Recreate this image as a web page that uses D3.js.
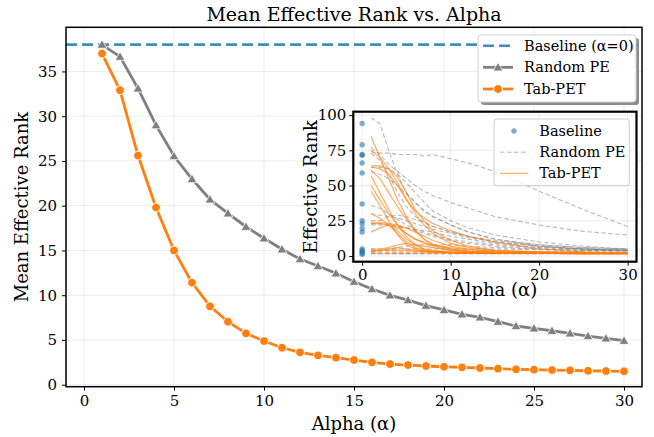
<!DOCTYPE html>
<html><head><meta charset="utf-8">
<script src="https://cdn.jsdelivr.net/npm/d3@7"></script>
<style>body{margin:0;background:#fff} svg{display:block} text{font-family:"DejaVu Serif",serif;fill:#000}</style>
</head><body><svg id="c" width="654" height="437"></svg>
<script>
// ---------- data ----------
const alphas = [1,2,3,4,5,6,7,8,9,10,11,12,13,14,15,16,17,18,19,20,21,22,23,24,25,26,27,28,29,30];
const randomPE = [38.0,36.65,33.1,29.0,25.55,22.98,20.7,19.15,17.65,16.36,15.13,14.04,13.26,12.45,11.51,10.69,9.99,9.46,8.83,8.35,7.87,7.53,7.04,6.56,6.30,6.03,5.74,5.44,5.18,4.92];
const tabPET = [37.0,32.9,25.6,19.8,15.0,11.4,8.76,7.04,5.74,4.88,4.13,3.62,3.28,3.02,2.76,2.50,2.31,2.20,2.09,2.01,1.94,1.87,1.79,1.72,1.68,1.64,1.61,1.56,1.53,1.50];
const baselineMean = 38.0;
const xTicks = [0,5,10,15,20,25,30];
const yTicks = [0,5,10,15,20,25,30,35];
const legendLabels = ["Baseline (α=0)","Random PE","Tab-PET"];

const insetAlphas = [1,2,3,4,5,6,7,8,10,12,15,20,25,30];
const insetBaseline = [94,79,72,71.5,66,59,37,25,23,19.5,17,5,4,3,2,1.3];
const insetRandomPE = [
  [98,94,75,58,45,38,32,28,22,17,12,7,5,4],
  [74,73,73,72,72,72,71,72,69,66,60,46,33,21],
  [77,72,65,60,55,50,46,43,38,34,28,22,17.5,15],
  [63,63,62,58,52,45,38,32,25,20,15,10,7,5],
  [73,68,58,45,35,28,24,21,17,14,11,8,6,5],
  [60,58,55,50,44,38,32,28,22,17,12,8,6,5],
  [36,34,30,26,22,19,17,15,12,10,8,6,5,4],
  [30,29,28,27,25,23,21,19,16,13,10,7,5,4],
  [25,25,28,29,28,26,24,21,17,14,10,7,5,4],
  [23,23,22,21,20,19,18,17,14,12,9,6,5,4],
  [22,22,22,21,20,18,16,14,11,9,7,5,4,3.5],
  [5,5,5,6,7,8,8,8,8,7,6,5,4,4],
  [4,4,4.5,5,5,5,5,5,5,5,5,4.5,4,4],
  [3,3,3,3,3,3,3,3,3,3,3,3,3,3],
  [2,2,2,2,2,2,2,2,2,2,2,2,2,2],
  [1.5,1.5,1.5,1.5,1.5,1.5,1.5,1.5,1.5,1.5,1.5,1.5,1.5,1.5]
];
const insetTabPET = [
  [85,70,55,40,28,18,12,8,5,3.5,2.5,2,2,2],
  [75,70,62,52,40,30,22,16,9,6,4,3,2.5,2],
  [64,64,62,56,45,33,25,18,11,7,4,3,2.5,2],
  [63,62,58,50,40,32,27,23,18,14,10,5,3,2],
  [61,55,45,35,26,18,12,8,5,3.5,2.5,2,2,2],
  [57,45,33,22,14,8,5,3.5,2.5,2,2,2,2,2],
  [50,40,30,22,16,12,10,8,6,4.5,3.5,2.5,2,2],
  [46,36,25,15,8,5,3.5,3,2.5,2,2,2,2,2],
  [30,27,22,16,10,6,4,3,2.5,2,2,2,2,2],
  [24,24,23,22,20,17,14,11,7,5,3,2,2,2],
  [23,23,22,18,12,8,5,4,3,2.5,2,2,2,2],
  [17,20,22,20,16,12,9,7,4,3,2.5,2,2,2],
  [5,5,6,8,9,8,7,6,4,3,2.5,2,2,2],
  [4,4,4,4,4,3.5,3,3,2.5,2,2,2,2,2],
  [3,4,5,6,5,4,3.5,3,2.5,2,2,2,1.5,1.5],
  [2,2,2,2,2,2,2,2,2,2,2,2,1.5,1.5]
];
const insetXTicks = [0,10,20,30];
const insetYTicks = [0,25,50,75,100];
const insetLegendLabels = ["Baseline","Random PE","Tab-PET"];

// ---------- colors ----------
const C_BLUE = "#1f77b4", C_GRAY = "#7f7f7f", C_ORANGE = "#ff7f0e";
const TICK_FS = 15, LABEL_FS = 18, TITLE_FS = 19, LEG_FS = 14.5;

const svg = d3.select("#c");

// ---------- main axes ----------
const M = {l:66, r:642, t:27.3, b:386.7};
const x = d3.scaleLinear().domain([-1,31]).range([M.l,M.r]);
const y = d3.scaleLinear().domain([-0.22,39.93]).range([M.b,M.t]);

const main = svg.append("g");
main.append("g").selectAll("line").data(xTicks).join("line")
  .attr("x1",d=>x(d)).attr("x2",d=>x(d)).attr("y1",M.t).attr("y2",M.b)
  .attr("stroke","#b0b0b0").attr("stroke-opacity",0.3).attr("stroke-width",0.8);
main.append("g").selectAll("line").data(yTicks).join("line")
  .attr("y1",d=>y(d)).attr("y2",d=>y(d)).attr("x1",M.l).attr("x2",M.r)
  .attr("stroke","#b0b0b0").attr("stroke-opacity",0.3).attr("stroke-width",0.8);

const xAxis = main.append("g").attr("transform",`translate(0,${M.b})`)
  .call(d3.axisBottom(x).tickValues(xTicks).tickSize(4).tickPadding(5).tickFormat(d3.format("d")));
const yAxis = main.append("g").attr("transform",`translate(${M.l},0)`)
  .call(d3.axisLeft(y).tickValues(yTicks).tickSize(4).tickPadding(5).tickFormat(d3.format("d")));
[xAxis,yAxis].forEach(a=>{a.select(".domain").remove();
  a.selectAll("text").attr("font-family","DejaVu Serif").attr("font-size",TICK_FS).attr("fill","#000");
  a.selectAll("line").attr("stroke","#000").attr("stroke-width",1);});

main.append("line").attr("x1",M.l).attr("x2",M.r).attr("y1",y(baselineMean)).attr("y2",y(baselineMean))
  .attr("stroke",C_BLUE).attr("stroke-opacity",0.85).attr("stroke-width",2.6).attr("stroke-dasharray","11,5");

const line = d3.line().x((d,i)=>x(alphas[i])).y(d=>y(d));
main.append("path").datum(randomPE).attr("d",line).attr("fill","none")
  .attr("stroke",C_GRAY).attr("stroke-width",2.8);
main.append("g").selectAll("path").data(randomPE).join("path")
  .attr("transform",(d,i)=>`translate(${x(alphas[i])},${y(d)+0.8})`)
  .attr("d",d3.symbol(d3.symbolTriangle,42)).attr("fill",C_GRAY).attr("stroke","#fff").attr("stroke-width",0.8);

main.append("path").datum(tabPET).attr("d",line).attr("fill","none")
  .attr("stroke",C_ORANGE).attr("stroke-width",2.8);
main.append("g").selectAll("circle").data(tabPET).join("circle")
  .attr("cx",(d,i)=>x(alphas[i])).attr("cy",d=>y(d)).attr("r",4.4)
  .attr("fill",C_ORANGE).attr("stroke","#fff").attr("stroke-width",1);

main.append("rect").attr("x",M.l).attr("y",M.t).attr("width",M.r-M.l).attr("height",M.b-M.t)
  .attr("fill","none").attr("stroke","#000").attr("stroke-width",1.5);

svg.append("text").attr("x",354).attr("y",21).attr("text-anchor","middle").attr("font-size",TITLE_FS)
  .text("Mean Effective Rank vs. Alpha");
svg.append("text").attr("x",354).attr("y",430).attr("text-anchor","middle").attr("font-size",LABEL_FS)
  .text("Alpha (α)");
svg.append("text").attr("transform",`translate(28,${(M.t+M.b)/2}) rotate(-90)`).attr("text-anchor","middle").attr("font-size",LABEL_FS)
  .text("Mean Effective Rank");

// main legend
const L = {x:478, y:35, w:158, h:67};
const lg = svg.append("g");
lg.append("rect").attr("x",L.x+3).attr("y",L.y+3).attr("width",L.w).attr("height",L.h).attr("rx",3)
  .attr("fill","#666").attr("fill-opacity",0.75);
lg.append("rect").attr("x",L.x).attr("y",L.y).attr("width",L.w).attr("height",L.h).attr("rx",3)
  .attr("fill","#fff").attr("stroke","#d0d0d0").attr("stroke-width",1);
const rowsY = [45.7,67.3,89];
const hx1 = 483, hx2 = 513;
lg.append("line").attr("x1",hx1).attr("x2",hx2).attr("y1",rowsY[0]).attr("y2",rowsY[0])
  .attr("stroke",C_BLUE).attr("stroke-opacity",0.85).attr("stroke-width",2.6).attr("stroke-dasharray","11,5");
lg.append("line").attr("x1",hx1).attr("x2",hx2).attr("y1",rowsY[1]).attr("y2",rowsY[1])
  .attr("stroke",C_GRAY).attr("stroke-width",2.8);
lg.append("path").attr("transform",`translate(${(hx1+hx2)/2},${rowsY[1]+0.8})`)
  .attr("d",d3.symbol(d3.symbolTriangle,42)).attr("fill",C_GRAY).attr("stroke","#fff").attr("stroke-width",0.8);
lg.append("line").attr("x1",hx1).attr("x2",hx2).attr("y1",rowsY[2]).attr("y2",rowsY[2])
  .attr("stroke",C_ORANGE).attr("stroke-width",2.8);
lg.append("circle").attr("cx",(hx1+hx2)/2).attr("cy",rowsY[2]).attr("r",4.4)
  .attr("fill",C_ORANGE).attr("stroke","#fff").attr("stroke-width",1);
lg.selectAll("text.l").data(legendLabels).join("text").attr("class","l")
  .attr("x",524).attr("y",(d,i)=>rowsY[i]).attr("dy","0.35em").attr("font-size",LEG_FS).text(d=>d);

// ---------- inset ----------
const I = {l:353.3, r:636.5, t:111.7, b:261.7};
const ix = d3.scaleLinear().domain([-1,31]).range([I.l,I.r]);
const iy = d3.scaleLinear().domain([-4,102.4]).range([I.b,I.t]);
const ins = svg.append("g");
ins.append("rect").attr("x",I.l).attr("y",I.t).attr("width",I.r-I.l).attr("height",I.b-I.t).attr("fill","#fff");
ins.append("g").selectAll("line").data(insetXTicks).join("line")
  .attr("x1",d=>ix(d)).attr("x2",d=>ix(d)).attr("y1",I.t).attr("y2",I.b)
  .attr("stroke","#b0b0b0").attr("stroke-opacity",0.3).attr("stroke-width",0.8);
ins.append("g").selectAll("line").data(insetYTicks).join("line")
  .attr("y1",d=>iy(d)).attr("y2",d=>iy(d)).attr("x1",I.l).attr("x2",I.r)
  .attr("stroke","#b0b0b0").attr("stroke-opacity",0.3).attr("stroke-width",0.8);

const iline = d3.line().x((d,i)=>ix(insetAlphas[i])).y(d=>iy(d));
ins.append("g").selectAll("path").data(insetRandomPE).join("path").attr("d",iline)
  .attr("fill","none").attr("stroke",C_GRAY).attr("stroke-opacity",0.55).attr("stroke-width",1.1).attr("stroke-dasharray","4.5,2.5");
ins.append("g").selectAll("path").data(insetTabPET).join("path").attr("d",iline)
  .attr("fill","none").attr("stroke",C_ORANGE).attr("stroke-opacity",0.65).attr("stroke-width",1.2);
ins.append("g").selectAll("circle").data(insetBaseline).join("circle")
  .attr("cx",ix(0)).attr("cy",d=>iy(d)).attr("r",2.7).attr("fill",C_BLUE).attr("fill-opacity",0.6);

const ixA = ins.append("g").attr("transform",`translate(0,${I.b})`)
  .call(d3.axisBottom(ix).tickValues(insetXTicks).tickSize(4).tickPadding(4).tickFormat(d3.format("d")));
const iyA = ins.append("g").attr("transform",`translate(${I.l},0)`)
  .call(d3.axisLeft(iy).tickValues(insetYTicks).tickSize(4).tickPadding(3).tickFormat(d3.format("d")));
[ixA,iyA].forEach(a=>{a.select(".domain").remove();
  a.selectAll("text").attr("font-family","DejaVu Serif").attr("font-size",TICK_FS).attr("fill","#000");
  a.selectAll("line").attr("stroke","#000").attr("stroke-width",1);});

ins.append("rect").attr("x",I.l).attr("y",I.t).attr("width",I.r-I.l).attr("height",I.b-I.t)
  .attr("fill","none").attr("stroke","#000").attr("stroke-width",2.2);
ins.append("text").attr("x",(I.l+I.r)/2).attr("y",296).attr("text-anchor","middle").attr("font-size",LABEL_FS)
  .text("Alpha (α)");
ins.append("text").attr("transform",`translate(317,${(I.t+I.b)/2}) rotate(-90)`).attr("text-anchor","middle").attr("font-size",LABEL_FS)
  .text("Effective Rank");

// inset legend
const IL = {x:494, y:119, w:135.3, h:66.7};
ins.append("rect").attr("x",IL.x).attr("y",IL.y).attr("width",IL.w).attr("height",IL.h).attr("rx",3)
  .attr("fill","#fff").attr("fill-opacity",0.8).attr("stroke","#cccccc").attr("stroke-width",1);
const irY = [131,152.3,173.3];
ins.append("circle").attr("cx",514).attr("cy",irY[0]).attr("r",2.7).attr("fill",C_BLUE).attr("fill-opacity",0.6);
ins.append("line").attr("x1",500).attr("x2",528.3).attr("y1",irY[1]).attr("y2",irY[1])
  .attr("stroke",C_GRAY).attr("stroke-opacity",0.55).attr("stroke-width",1.1).attr("stroke-dasharray","4.5,2.5");
ins.append("line").attr("x1",500).attr("x2",528.3).attr("y1",irY[2]).attr("y2",irY[2])
  .attr("stroke",C_ORANGE).attr("stroke-opacity",0.65).attr("stroke-width",1.2);
ins.selectAll("text.il").data(insetLegendLabels).join("text").attr("class","il")
  .attr("x",539.3).attr("y",(d,i)=>irY[i]).attr("dy","0.35em").attr("font-size",LEG_FS).text(d=>d);
</script></body></html>
